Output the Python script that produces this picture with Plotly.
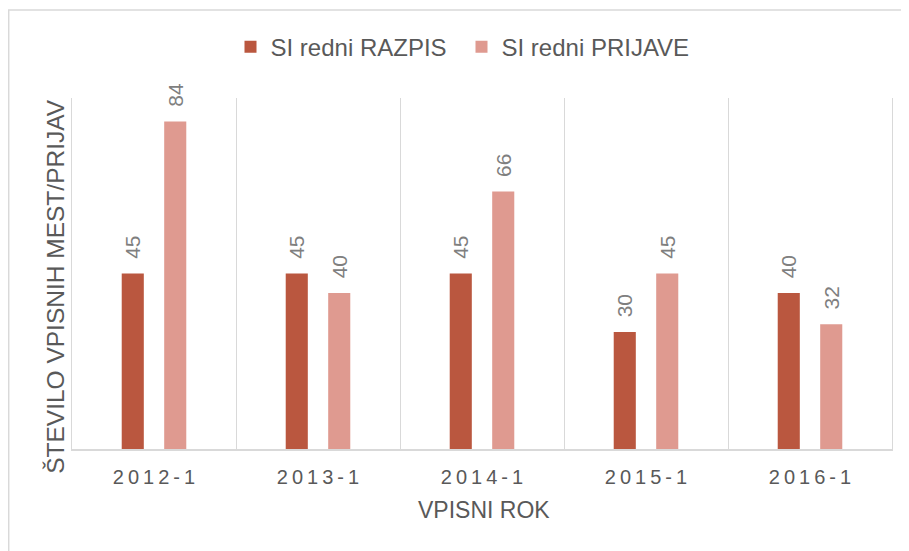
import plotly.graph_objects as go

categories = ["2012-1", "2013-1", "2014-1", "2015-1", "2016-1"]
tick_labels = ["2\u20090\u20091\u20092\u2009-\u20091", "2\u20090\u20091\u20093\u2009-\u20091",
               "2\u20090\u20091\u20094\u2009-\u20091", "2\u20090\u20091\u20095\u2009-\u20091",
               "2\u20090\u20091\u20096\u2009-\u20091"]
razpis = [45, 45, 45, 30, 40]
prijave = [84, 40, 66, 45, 32]

FONT = "Liberation Sans, Arial, sans-serif"
GRID = "#d9d9d9"
LABEL = "#7f7f7f"

# page has an 8px body margin: figure is placed at (8, 8)
W, H = 901, 543
L, T = 64, 90
PW, PH = 820, 351

fig = go.Figure()
for name, vals, col in [("SI redni RAZPIS", razpis, "#BA573F"),
                        ("SI redni PRIJAVE", prijave, "#DF9A90")]:
    fig.add_trace(go.Bar(
        name=name, x=categories, y=vals,
        marker=dict(color=col, line=dict(width=0)),
        texttemplate="\u00a0\u00a0%{y}", textposition="outside", textangle=-90,
        constraintext="none",
        textfont=dict(size=21, color=LABEL, family=FONT), cliponaxis=False,
    ))

fig.update_layout(
    width=W, height=H,
    margin=dict(l=L, r=W - L - PW, t=T, b=H - T - PH, autoexpand=False),
    paper_bgcolor="white", plot_bgcolor="white",
    barmode="group", bargap=0.482, bargroupgap=0.48,
    font=dict(family=FONT, color="#595959"),
    showlegend=True,
    legend=dict(orientation="h", x=0.475, xanchor="center", y=1.145, yanchor="middle",
                font=dict(size=24, color="#595959"), itemwidth=30,
                entrywidth=186, entrywidthmode="pixels", traceorder="normal"),
    xaxis=dict(
        type="category", tickmode="array", tickvals=categories, ticktext=tick_labels,
        tickson="boundaries", showgrid=True, gridcolor=GRID, gridwidth=1,
        showline=True, linecolor=GRID, linewidth=1.5, ticks="",
        tickfont=dict(size=20, color="#595959"), ticklabelstandoff=9,
        range=[-0.5, 4.5],
    ),
    yaxis=dict(
        range=[0, 90], showticklabels=False, showgrid=False, zeroline=False,
        showline=True, mirror=True, linecolor=GRID, linewidth=1, ticks="",
    ),
    annotations=[
        dict(text="VPISNI ROK", xref="paper", yref="paper", x=0.5025, y=-0.174,
             xanchor="center", yanchor="middle", showarrow=False,
             font=dict(size=23, color="#595959", family=FONT)),
        dict(text="ŠTEVILO VPISNIH MEST/PRIJAV", xref="paper", yref="paper",
             x=-0.0195, y=0.462, xanchor="center", yanchor="middle", textangle=-90,
             showarrow=False, font=dict(size=24.5, color="#595959", family=FONT)),
    ],
    shapes=[
        dict(type="rect", xref="paper", yref="paper",
             x0=(0.7 - L) / PW, x1=(W + 20 - L) / PW,
             y0=(T + PH - H - 20) / PH, y1=(T + PH - 2) / PH,
             line=dict(color=GRID, width=1.5), layer="below"),
    ],
)

fig.write_html("out.html")
